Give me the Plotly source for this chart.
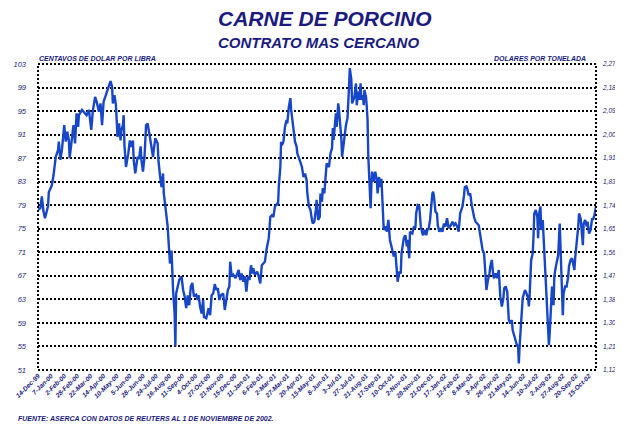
import plotly.graph_objects as go

# trading-day index (one unit per trading session from 14-Dec-99) and price (cents/lb)
day = [0,3,5,7,9,13,14,18,20,23,26,27,29,31,34,36,38,40,41,43,46,48,50,52,53,57,61,63,66,69,71,74,76,79,81,83,85,89,92,94,96,97,99,101,103,105,107,108,110,111,112,114,117,119,121,123,124,126,129,131,133,134,136,138,140,142,145,147,149,150,152,155,156,158,160,162,163,165,168,170,171,173,174,175,177,178,179,183,186,188,190,192,194,196,198,200,202,205,207,208,210,212,214,215,218,221,223,225,227,229,231,233,235,237,240,242,244,246,248,249,251,253,256,258,260,262,264,266,268,270,272,274,276,278,279,281,284,286,288,290,292,294,296,297,299,301,303,305,307,310,311,312,314,315,316,318,320,322,323,325,326,327,328,330,331,333,335,336,339,341,342,344,346,348,349,351,353,355,356,358,359,360,361,363,365,366,368,369,371,373,374,377,379,381,382,383,384,386,387,389,390,392,393,394,396,397,399,401,402,403,404,405,406,407,409,410,412,413,415,416,418,419,421,422,423,425,426,427,428,429,430,431,432,433,435,437,439,440,442,443,445,446,447,448,450,452,454,456,458,460,461,463,464,465,466,468,470,471,473,474,476,478,479,481,482,485,487,489,490,492,494,496,498,499,501,503,505,506,508,509,511,512,513,515,517,518,520,522,524,526,528,530,532,534,537,539,541,543,545,547,549,550,552,553,555,556,558,560,562,563,565,567,569,571,572,574,576,578,579,580,581,583,585,586,588,590,591,593,595,597,598,599,601,603,604,606,608,609,610,612,614,615,617,619,621,622,623,624,626,628,629,631,633,635,636,637,639,641,642,643,645,647,648,649,651,652,654,655,656,658,659,661,662,663,665,666,668,669,671,673,674,676,677,678,680,681,683,685,687,688,690,692,693,695,696,698,700,701,703,704,706,707,709,711,712,714,716,718,719,721,723]
price = [78.2,78.5,80.5,78,76.8,78.8,81.2,82.4,84,87.2,88.4,89.8,86.7,88.4,92.6,89.8,91.5,90,87,89.5,92.6,89.5,94.6,92.3,94.3,95.2,94.6,94.3,95.2,91.8,95,97.4,96.6,94.9,96.3,92.6,96.6,98.3,99.4,100.1,99.1,96.3,97.7,96,90.6,92.9,90,91.7,92.6,94.3,89.2,85.5,87.8,90,88.9,90,86.7,84.4,87.2,86.9,89,86.7,84.7,87.2,92.6,92.9,90.6,88.4,87.2,88.4,90.4,89.5,86.7,84.1,82.1,84.4,81,78.8,75.4,71.1,69.1,71.3,67.4,64.6,60.6,55,64,66.3,66.9,64.6,63.5,61.5,63.7,62,65.2,65.8,63.5,63.8,62.9,63.7,61.8,60.6,62.9,60,59.8,61.5,60.3,63.7,64,65.6,64.6,64.9,62.9,63.7,64,61.2,62.9,64.6,65.2,69.4,66.9,67.2,66.6,67.2,68,66.3,67.4,66,66.9,64.3,66.9,66.3,68.8,67.4,68.3,67.2,67.7,66.9,65.7,68.8,69.2,69.4,71.4,72,73.4,77,77.3,77,78.8,79.3,79,82.2,85.5,89.8,89.2,89.8,92.3,93.5,92.9,95.7,96.9,97.2,95.2,92.9,91.8,89.8,89,87.8,86.7,86.1,85.5,83.8,84.4,83.3,81,78.8,78.2,76.5,75.9,76.2,77,78.2,79.9,76.5,77,81,79.6,81.9,81,84.1,86.1,85.5,87.8,88.7,92.1,90.1,92.3,94.6,92.3,96.3,95.2,92.3,90.4,87.2,89.8,90.1,92.6,93.8,98,99.1,102.3,101.4,100.3,96.3,97.2,97.4,99.7,96,98.3,96.9,99.7,96.9,97.7,96,98.6,97.4,95.7,93.5,87.2,83.8,82.1,78.5,82.7,84.7,83,84.7,83.3,81,83.8,82.1,83.5,79.3,75.9,74.8,75.4,74.5,76.5,73.1,72,70.5,70.3,71.1,68.6,66.9,66,67.7,67.4,70.8,72.5,73.4,73.9,72,73.1,70,74.5,74.2,75.4,75.1,77.6,79,78.8,75.4,74.2,73.9,74.8,73.9,75.1,74.8,76.5,78.2,81,81.3,80.5,77.9,77.6,75.6,74.5,75.1,74.5,75.9,75.4,76.8,75.1,75.4,76.2,75.6,75.9,75.4,74.5,77.6,78.2,78.8,80.7,82.1,82.2,81.9,80.7,81,79,78.2,77,76.2,75.9,75.6,74.8,72.8,71.4,70.8,69.1,67.4,64.6,66.3,67.4,68.6,69.7,66.9,66.6,67.4,66.6,68,66.3,63.5,61.8,63.2,64.9,65.2,64.3,61.8,59.5,58.9,59.5,57.8,56.7,56.1,55,55.3,52.1,55,59.5,63.2,63.7,64.6,64,63.2,61.8,63.7,69.7,70.8,73.6,77.6,78.2,77,73.4,77.3,78.8,74.8,76.5,73.6,70.8,65.2,62.9,58.9,55.2,57.2,64,65.2,62,66.9,68.6,69.7,70.5,75.9,70.8,68.6,60.3,64,65.2,65.2,66.9,68.6,69.7,70,69.1,68,70,72.5,75.4,77.6,76.8,75.4,72.2,75.9,76.5,75.4,76.2,74.2,74.8,76.8,76.5,77.3,78.8]

tick_labels = ["14-Dec-99","7-Jan-00","2-Feb-00","28-Feb-00","22-Mar-00","14-Apr-00","10-May-00","5-Jun-00","28-Jun-00","24-Jul-00","16-Aug-00","11-Sep-00","4-Oct-00","27-Oct-00","21-Nov-00","15-Dec-00","11-Jan-01","6-Feb-01","2-Mar-01","27-Mar-01","20-Apr-01","15-May-01","8-Jun-01","3-Jul-01","27-Jul-01","21-Aug-01","17-Sep-01","10-Oct-01","2-Nov-01","28-Nov-01","21-Dec-01","17-Jan-02","12-Feb-02","8-Mar-02","3-Apr-02","26-Apr-02","21-May-02","14-Jun-02","10-Jul-02","2-Aug-02","27-Aug-02","20-Sep-02","15-Oct-02"]
tick_step = 17
left_ticks = [103,99,95,91,87,83,79,75,71,67,63,59,55,51]
right_ticks = ["2,27","2,18","2,09","2,00","1,91","1,83","1,74","1,65","1,56","1,47","1,38","1,30","1,21","1,12"]

NAVY = "#1a1a80"
FONT = "Liberation Sans, Arial, sans-serif"
W, H = 623, 426
OFF = 8  # page body margin shifts the figure on screen
# desired plot area in screen pixels
SL, SR, ST, SB = 38, 596, 64, 370
PL, PR, PT, PB = SL - OFF, SR - OFF, ST - OFF, SB - OFF


def px_x(p):
    return (p - OFF - PL) / (PR - PL)


def px_y(p):
    return (PB - (p - OFF)) / (PB - PT)


fig = go.Figure()
fig.add_trace(go.Scatter(x=day, y=price, mode="lines",
                         line=dict(color="#1846C8", width=2.4),
                         showlegend=False, hoverinfo="skip"))
fig.add_trace(go.Scatter(x=[day[0]], y=[price[0]], yaxis="y2", mode="markers",
                         marker=dict(opacity=0), showlegend=False, hoverinfo="skip"))

fig.update_layout(
    width=W, height=H,
    margin=dict(l=PL, r=W - PR, t=PT, b=H - PB, autoexpand=False),
    plot_bgcolor="white", paper_bgcolor="white",
    xaxis=dict(range=[0, 723], tickmode="array",
               tickvals=[tick_step * i for i in range(len(tick_labels))],
               ticktext=tick_labels, tickangle=-45,
               tickfont=dict(family=FONT, size=6.5, color=NAVY, style="italic", weight="bold"),
               showgrid=False, zeroline=False, showline=False, ticks="",
               ticklabelstandoff=0),
    yaxis=dict(range=[51, 103], tickmode="array", tickvals=left_ticks,
               ticktext=[str(v) for v in left_ticks],
               tickfont=dict(family=FONT, size=7.5, color=NAVY, style="italic"),
               showgrid=True, gridcolor="black", gridwidth=2, griddash="2px,2px",
               zeroline=False, showline=False, ticks="", ticklabelstandoff=11),
    yaxis2=dict(range=[51, 103], overlaying="y", side="right", tickmode="array",
                tickvals=left_ticks, ticktext=right_ticks,
                tickfont=dict(family=FONT, size=6.5, color=NAVY, style="italic"),
                showgrid=False, zeroline=False, showline=False, ticks="",
                ticklabelstandoff=6),
    shapes=[dict(type="rect", xref="paper", yref="paper", x0=0, x1=1, y0=0, y1=1,
                 line=dict(color="black", width=2, dash="2px,2px"), layer="above")],
    annotations=[
        dict(text="CARNE DE PORCINO", x=px_x(325), y=px_y(18), xref="paper", yref="paper",
             showarrow=False, yanchor="middle",
             font=dict(family=FONT, size=21, color=NAVY, style="italic", weight="bold")),
        dict(text="CONTRATO MAS CERCANO", x=px_x(318), y=px_y(42), xref="paper", yref="paper",
             showarrow=False, yanchor="middle",
             font=dict(family=FONT, size=15, color=NAVY, style="italic", weight="bold")),
        dict(text="CENTAVOS DE DOLAR POR LIBRA", x=px_x(37), y=px_y(58), xref="paper", yref="paper",
             showarrow=False, xanchor="left", yanchor="middle",
             font=dict(family=FONT, size=7, color=NAVY, style="italic", weight="bold")),
        dict(text="DOLARES POR TONELADA", x=px_x(588), y=px_y(58), xref="paper", yref="paper",
             showarrow=False, xanchor="right", yanchor="middle",
             font=dict(family=FONT, size=7, color=NAVY, style="italic", weight="bold")),
        dict(text="FUENTE: ASERCA CON DATOS DE REUTERS AL 1 DE NOVIEMBRE DE 2002.",
             x=px_x(16), y=px_y(419), xref="paper", yref="paper", showarrow=False,
             xanchor="left", yanchor="middle",
             font=dict(family=FONT, size=7, color=NAVY, style="italic", weight="bold")),
    ],
)

fig.write_html("out.html")
